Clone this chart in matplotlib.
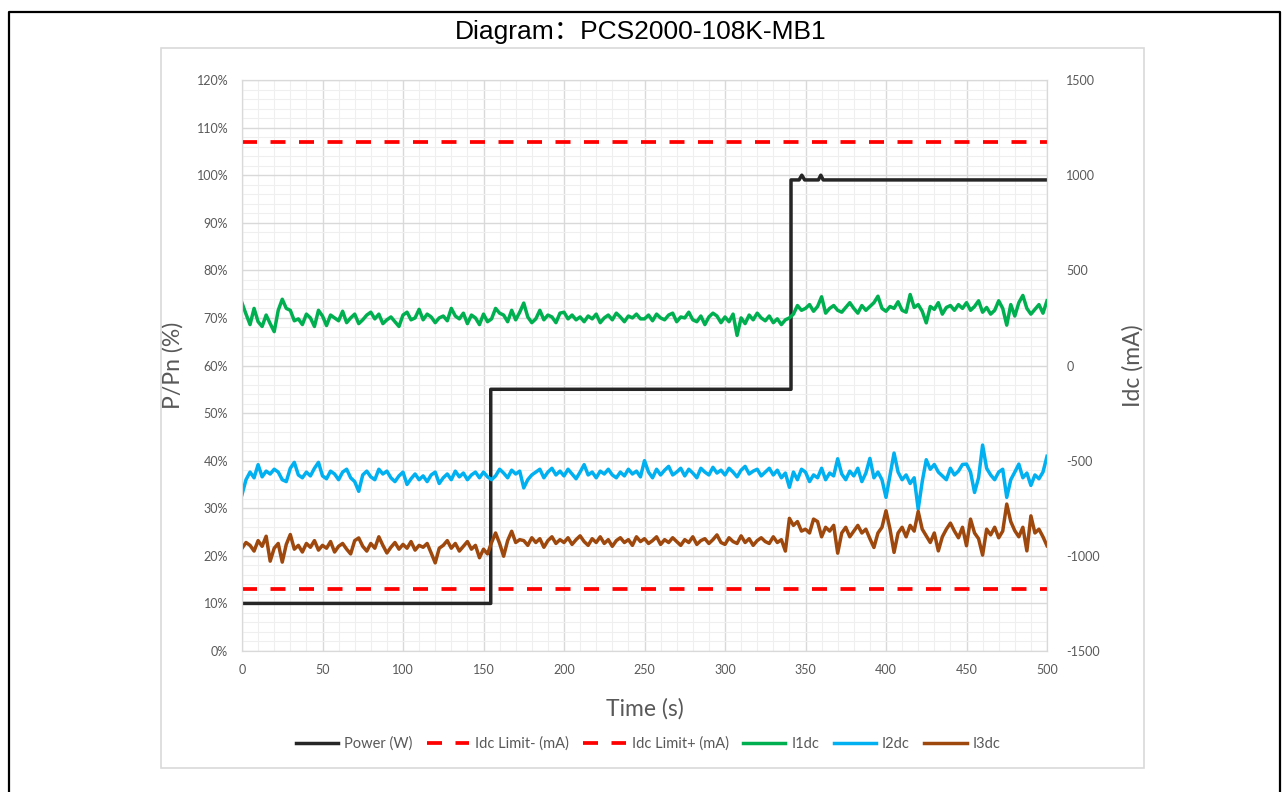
import numpy as np
import matplotlib.pyplot as plt
from matplotlib.lines import Line2D
from matplotlib.patches import Rectangle
from matplotlib.ticker import MultipleLocator, FuncFormatter

plt.rcParams['axes.unicode_minus'] = False

# ---- data ----
t_idc = np.arange(0, 500.1, 2.5)

i1dc = [
    328, 270, 215, 300, 230, 205, 265, 220, 178, 290,
    348, 300, 290, 235, 245, 215, 270, 250, 205, 290,
    260, 210, 265, 250, 235, 285, 225, 250, 270, 220,
    240, 265, 280, 245, 270, 220, 240, 255, 230, 205,
    265, 280, 240, 250, 295, 240, 270, 255, 225, 250,
    260, 235, 300, 260, 245, 275, 220, 265, 250, 215,
    270, 230, 245, 300, 275, 265, 230, 290, 240, 280,
    328, 255, 225, 245, 290, 240, 265, 255, 225, 275,
    280, 245, 265, 240, 255, 230, 260, 245, 270, 225,
    250, 265, 240, 275, 255, 230, 260, 250, 270, 245,
    245, 265, 235, 270, 250, 240, 265, 275, 230, 255,
    250, 280, 240, 230, 260, 215, 255, 275, 260, 225,
    255, 230, 270, 158, 250, 220, 265, 240, 275, 250,
    235, 260, 225, 245, 215, 240, 250, 270, 315, 290,
    300, 320, 285, 310, 361, 275, 300, 315, 290, 280,
    305, 330, 300, 275, 315, 290, 310, 330, 364, 300,
    285, 310, 300, 335, 290, 280, 373, 305, 320, 285,
    224, 310, 295, 330, 270, 305, 315, 290, 320, 300,
    330, 290, 310, 340, 280, 305, 270, 290, 340, 300,
    212, 320, 260, 330, 368, 300, 270, 295, 320, 275,
    340,
]

i2dc = [
    -678, -600, -560, -590, -521, -585, -555, -570, -545, -560,
    -600, -610, -540, -509, -575, -590, -560, -580, -540, -509,
    -580, -595, -555, -570, -600, -560, -545, -590, -610, -661,
    -575, -555, -585, -600, -545, -570, -555, -590, -610, -580,
    -560, -625, -595, -570, -600, -580, -610, -575, -560, -620,
    -590, -570, -600, -555, -585, -565, -600, -575, -560, -590,
    -560, -585, -600, -580, -545, -565, -590, -550, -570, -555,
    -643, -600, -575, -560, -545, -590, -560, -540, -575, -555,
    -580, -545, -570, -595, -560, -521, -575, -560, -590, -555,
    -570, -545, -575, -590, -560, -580, -545, -570, -555, -585,
    -500, -560, -590, -545, -575, -550, -530, -575, -560, -540,
    -580, -545, -565, -590, -540, -560, -575, -535, -565, -550,
    -575, -540, -560, -585, -550, -530, -570, -555, -545, -580,
    -560, -540, -575, -550, -590, -565, -640, -560, -600, -545,
    -560, -610, -575, -590, -540, -600, -565, -580, -490, -570,
    -600, -555, -580, -540, -610, -565, -488, -590, -560, -600,
    -693, -575, -460, -560, -600, -575, -620, -590, -755, -610,
    -495, -545, -520, -560, -580, -600, -540, -575, -555, -520,
    -518, -560, -667, -590, -418, -540, -575, -600, -560, -545,
    -693, -600, -560, -518, -590, -565, -630, -575, -595, -560,
    -477,
]

i3dc = [
    -960, -930, -945, -975, -920, -950, -897, -1028, -960, -935,
    -1033, -940, -888, -965, -945, -980, -935, -955, -920, -970,
    -945, -960, -925, -980, -950, -935, -965, -990, -920, -906,
    -950, -975, -935, -960, -900, -945, -985, -955, -930, -965,
    -940, -960, -925, -970, -945, -955, -935, -985, -1037, -960,
    -945, -920, -960, -935, -975, -950, -925, -965, -945, -1010,
    -965, -990, -930, -880, -935, -1002, -920, -871, -930, -915,
    -920, -945, -905, -930, -910, -955, -920, -900, -935, -915,
    -930, -905, -940, -915, -895, -925, -945, -910, -930, -900,
    -935, -915, -950, -920, -905, -930, -915, -945, -900, -925,
    -910, -935, -920, -900, -940, -915, -930, -905, -925, -945,
    -915, -930, -900, -940, -920, -910, -935, -915, -890, -930,
    -940, -905, -925, -935, -895, -930, -910, -945, -920, -905,
    -925, -935, -900, -930, -915, -975, -803, -840, -820, -870,
    -860, -880, -807, -820, -900, -850, -870, -840, -986, -880,
    -850, -900, -870, -840, -880, -860, -910, -956, -880, -850,
    -763, -860, -982, -880, -850, -900, -840, -870, -767, -860,
    -895, -930, -880, -974, -900, -860, -828, -870, -905, -850,
    -947, -807, -880, -910, -996, -860, -890, -850, -905, -870,
    -728, -820, -868, -900, -850, -974, -790, -880, -860, -900,
    -947,
]

# power step profile (percent of Pn)
power_t = [0, 154.5, 154.5, 341, 341, 346, 347.7, 349.5, 358, 359.5, 361, 500]
power_pct = [10, 10, 55, 55, 99, 99, 100, 99, 99, 100, 99, 99]

limit_t = [0, 500]
limit_neg = [-1175, -1175]
limit_pos = [1175, 1175]

# ---- figure ----
W, H = 1282, 792
fig = plt.figure(figsize=(W / 100, H / 100), dpi=100)
tick_font = 'Lato'
gray_txt = '#595959'

ax = fig.add_axes([242 / W, 1 - 651 / H, 805 / W, 571 / H])
ax2 = ax.twinx()

ax.set_xlim(0, 500)
ax.set_ylim(0, 120)
ax2.set_ylim(-1500, 1500)

ax.xaxis.set_major_locator(MultipleLocator(50))
ax.xaxis.set_minor_locator(MultipleLocator(10))
ax.yaxis.set_major_locator(MultipleLocator(10))
ax.yaxis.set_minor_locator(MultipleLocator(2))
ax.yaxis.set_major_formatter(FuncFormatter(lambda v, p: f'{v:.0f}%'))
ax2.yaxis.set_major_locator(MultipleLocator(500))

ax.grid(which='major', color='#d9d9d9', linewidth=1.0)
ax.grid(which='minor', color='#efefef', linewidth=0.8)
ax.set_axisbelow(True)

for a in (ax, ax2):
    for s in a.spines.values():
        s.set_color('#d9d9d9')
    a.tick_params(which='both', length=0, labelsize=9, labelcolor=gray_txt)
    for lab in a.get_xticklabels() + a.get_yticklabels():
        lab.set_fontfamily(tick_font)
ax.tick_params(axis='y', pad=10)
ax.tick_params(axis='x', pad=9)
ax2.tick_params(axis='y', pad=14)

ax.plot(power_t, power_pct, color='#262626', linewidth=2.5, label='Power (W)')
ax2.plot(limit_t, limit_neg, color='#ff0000', linewidth=2.7, dashes=(4, 3.6),
         label='Idc Limit- (mA)')
ax2.plot(limit_t, limit_pos, color='#ff0000', linewidth=2.7, dashes=(4, 3.6),
         label='Idc Limit+ (mA)')
ax2.plot(t_idc, i1dc, color='#00b050', linewidth=2.5, label='I1dc')
ax2.plot(t_idc, i2dc, color='#00b0f0', linewidth=2.5, label='I2dc')
ax2.plot(t_idc, i3dc, color='#9e480e', linewidth=2.5, label='I3dc')

ax.set_xlabel('Time (s)', fontsize=16.5, color=gray_txt, family=tick_font)
ax.set_ylabel('P/Pn (%)', fontsize=16.5, color=gray_txt, family=tick_font)
ax2.set_ylabel('Idc (mA)', fontsize=16.5, color=gray_txt, family=tick_font)
ax.xaxis.set_label_coords(0.5, -0.083)
ax.yaxis.set_label_coords(-0.073, 0.5)
ax2.yaxis.set_label_coords(1.093, 0.5)

h1, l1 = ax.get_legend_handles_labels()
h2, l2 = ax2.get_legend_handles_labels()
fig.legend(h1 + h2, l1 + l2, loc='center', bbox_to_anchor=(648 / W, 1 - 744 / H),
           ncol=6, frameon=False, handlelength=2.9, columnspacing=1.0,
           handletextpad=0.4, prop={'family': tick_font, 'size': 10.5},
           labelcolor=gray_txt)

fig.text(0.5, 1 - 32 / H, 'Diagram：PCS2000-108K-MB1', ha='center', va='center',
         fontsize=19, family=['Liberation Sans', 'Noto Sans CJK SC'])

# chart area frame and outer page border
fig.add_artist(Rectangle((161 / W, 1 - 768 / H), (1144 - 161) / W, (768 - 48) / H,
                         transform=fig.transFigure, fill=False,
                         edgecolor='#d9d9d9', linewidth=1.2))
fig.add_artist(Line2D([9 / W, 9 / W, 1280 / W, 1280 / W],
                      [0, 1 - 12 / H, 1 - 12 / H, 0],
                      transform=fig.transFigure, color='black', linewidth=1.6))

fig.savefig('out.png', dpi=100)
